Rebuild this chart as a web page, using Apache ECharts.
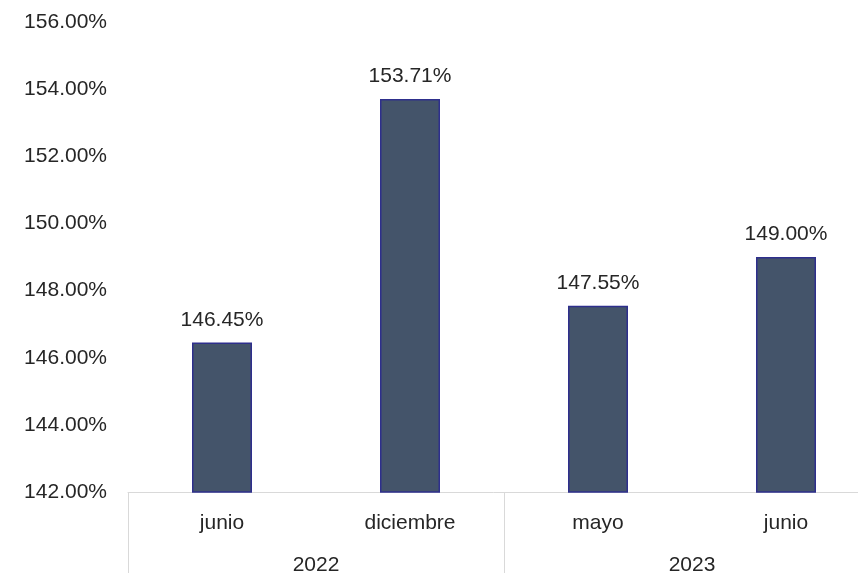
<!DOCTYPE html>
<html>
<head>
<meta charset="utf-8">
<script src="https://cdn.jsdelivr.net/npm/echarts@6/dist/echarts.min.js"></script>
<style>
  html, body { margin: 0; padding: 0; background: #ffffff; overflow: hidden; }
  #chart { width: 858px; height: 573px; }
</style>
</head>
<body>
<div id="chart"></div>
<script>
// Months (inner level) and their year groups (outer level)
const months = ['junio', 'diciembre', 'mayo', 'junio'];
const years = ['2022', '2023'];
// Ratio values in percent
const values = [146.45, 153.71, 147.55, 149.00];
// Value axis range
const yMin = 142;
const yMax = 156;
const yStep = 2;

const FONT = '"Liberation Sans", Arial, sans-serif';
const FONT_SIZE = 21;
const TEXT = '#262626';
const GRID_LINE = '#d9d9d9';

const chart = echarts.init(document.getElementById('chart'));
chart.setOption({
  animation: false,
  grid: {
    left: 128, top: 22, width: 752, height: 470,
    containLabel: false,
    outerBoundsMode: 'none'
  },
  xAxis: [
    {
      type: 'category',
      data: months,
      position: 'bottom',
      axisLine: { show: true, lineStyle: { color: GRID_LINE, width: 1 } },
      axisTick: { show: false },
      axisLabel: { color: TEXT, fontFamily: FONT, fontSize: FONT_SIZE, margin: 21 }
    },
    {
      type: 'category',
      data: years,
      position: 'bottom',
      axisLine: { show: false },
      axisTick: { show: true, length: 90, lineStyle: { color: GRID_LINE, width: 1 } },
      axisLabel: { color: TEXT, fontFamily: FONT, fontSize: FONT_SIZE, margin: 63 }
    }
  ],
  yAxis: {
    type: 'value',
    min: yMin,
    max: yMax,
    interval: yStep,
    axisLine: { show: false },
    axisTick: { show: false },
    splitLine: { show: false },
    axisLabel: {
      color: TEXT,
      fontFamily: FONT,
      fontSize: FONT_SIZE,
      margin: 21,
      formatter: v => v.toFixed(2) + '%'
    }
  },
  series: [{
    type: 'bar',
    xAxisIndex: 0,
    data: values,
    barWidth: 60,
    itemStyle: { color: '#44546a', borderColor: '#2e2f8c', borderWidth: 1.5 },
    label: {
      show: true,
      position: 'top',
      distance: 12,
      color: TEXT,
      fontFamily: FONT,
      fontSize: FONT_SIZE,
      formatter: p => p.value.toFixed(2) + '%'
    }
  }]
});
</script>
</body>
</html>
